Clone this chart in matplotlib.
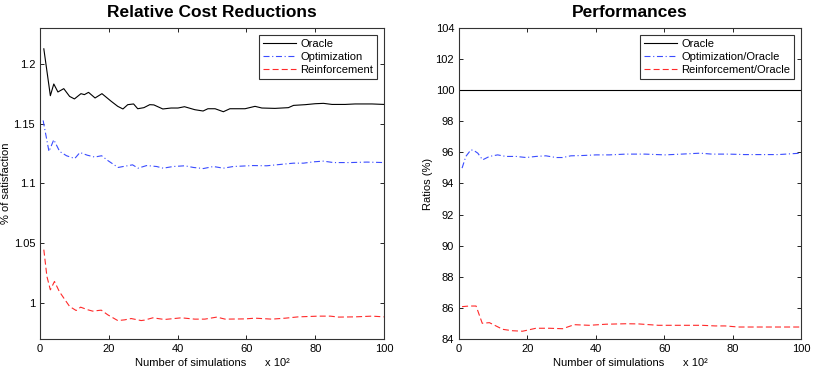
import matplotlib
matplotlib.use("Agg")
from matplotlib import pyplot as plt
from matplotlib.ticker import FormatStrFormatter

plt.rcParams['font.family'] = ['Liberation Sans', 'DejaVu Sans']

# Left panel: relative cost reductions
x_orc = [1.1, 3.0, 4.0, 5.2, 6.9, 8.6, 10.0, 11.9, 12.9, 14.1, 16.0, 18.0, 20.7, 22.6, 24.1,
         25.5, 27.2, 28.4, 30.2, 31.9, 33.1, 35.7, 38.1, 40.1, 42.0, 45.0, 47.4, 48.8, 50.9,
         53.3, 55.2, 59.6, 62.5, 64.5, 68.3, 72.2, 73.7, 77.1, 80.0, 82.4, 84.9, 88.7, 91.6,
         96.5, 100.0]
y_orc = [1.2126, 1.1734, 1.1832, 1.1765, 1.1793, 1.1728, 1.1707, 1.1751, 1.1743, 1.1762,
         1.1715, 1.1751, 1.1687, 1.1645, 1.1623, 1.1659, 1.1665, 1.1625, 1.1634, 1.1659,
         1.1657, 1.1623, 1.1631, 1.1631, 1.1642, 1.1617, 1.1606, 1.1625, 1.1625, 1.1600,
         1.1625, 1.1625, 1.1645, 1.1631, 1.1628, 1.1634, 1.1653, 1.1659, 1.1667, 1.1670,
         1.1661, 1.1661, 1.1665, 1.1665, 1.1661]

x_opt = [0.9, 2.6, 4.0, 5.7, 7.7, 10.1, 11.6, 13.7, 15.9, 17.9, 19.8, 22.7, 24.2, 26.9, 28.5,
         31.0, 33.9, 35.8, 38.7, 42.1, 44.6, 47.5, 50.4, 53.3, 56.2, 62.0, 65.9, 70.8, 73.7,
         76.6, 79.5, 82.4, 85.3, 90.2, 95.0, 100.0]
y_opt = [1.1527, 1.1268, 1.1366, 1.1268, 1.1232, 1.1209, 1.1259, 1.1237, 1.1221, 1.1232,
         1.1190, 1.1134, 1.1142, 1.1156, 1.1128, 1.1150, 1.1142, 1.1128, 1.1142, 1.1148,
         1.1134, 1.1125, 1.1142, 1.1128, 1.1142, 1.1150, 1.1148, 1.1162, 1.1170, 1.1170,
         1.1181, 1.1187, 1.1175, 1.1175, 1.1179, 1.1175]

x_rei = [1.1, 2.0, 3.0, 4.2, 5.6, 7.1, 8.6, 10.5, 11.8, 13.9, 15.3, 17.8, 19.7, 22.6, 24.6,
         26.5, 29.4, 30.4, 32.8, 36.2, 41.1, 45.0, 47.9, 51.4, 53.8, 59.6, 62.5, 67.4, 71.3,
         75.1, 81.0, 84.4, 86.8, 91.6, 96.5, 100.0]
y_rei = [1.0447, 1.0223, 1.0111, 1.0181, 1.0097, 1.0034, 0.9972, 0.9938, 0.9966, 0.9944,
         0.9933, 0.9941, 0.9902, 0.9854, 0.9860, 0.9871, 0.9854, 0.9858, 0.9877, 0.9863,
         0.9877, 0.9866, 0.9866, 0.9883, 0.9866, 0.9868, 0.9874, 0.9866, 0.9874, 0.9885,
         0.9891, 0.9891, 0.9883, 0.9885, 0.9891, 0.9885]

# Right panel: performances (ratios to oracle)
x_ratio_orc = [0, 100]
y_ratio_orc = [100, 100]

x_ratio_opt = [0.9, 2.0, 3.5, 4.5, 5.5, 6.9, 8.9, 11.3, 13.7, 16.7, 19.6, 22.5, 25.4, 28.4,
               30.3, 32.7, 36.2, 40.1, 44.0, 48.8, 54.4, 60.2, 65.1, 70.5, 73.9, 78.8, 83.6,
               88.5, 93.4, 100.0]
y_ratio_opt = [94.99, 95.74, 96.17, 96.10, 95.95, 95.52, 95.74, 95.84, 95.74, 95.74, 95.67,
               95.74, 95.78, 95.67, 95.67, 95.78, 95.80, 95.84, 95.84, 95.89, 95.89, 95.84,
               95.89, 95.95, 95.89, 95.89, 95.86, 95.86, 95.86, 95.95]

x_ratio_rei = [0.9, 3.0, 5.0, 6.8, 8.9, 12.8, 15.7, 18.6, 22.5, 26.4, 30.3, 33.7, 38.1, 43.0,
               48.8, 52.4, 58.3, 64.1, 71.0, 74.9, 77.8, 81.7, 87.6, 93.4, 100.0]
y_ratio_rei = [86.08, 86.12, 86.12, 85.01, 85.05, 84.62, 84.53, 84.50, 84.69, 84.69, 84.66,
               84.92, 84.88, 84.95, 84.98, 84.97, 84.88, 84.88, 84.88, 84.84, 84.84, 84.77,
               84.77, 84.77, 84.77]

FS = 8
BLUE = '#3a4cff'
RED = '#ff2a2a'
DASH = (5.4, 2.8)
DASHDOT = (5.4, 2.4, 1.0, 2.4)


def style_axes(ax):
    ax.set_xlim(0, 100)
    ax.set_xticks([0, 20, 40, 60, 80, 100])
    ax.tick_params(direction='in', top=True, right=True, labelsize=FS, length=3, width=0.6)
    for s in ax.spines.values():
        s.set_linewidth(0.8)
        s.set_color('#333333')
    ax.set_xlabel("Number of simulations      x 10\u00b2", fontsize=FS, labelpad=3)


fig = plt.figure(figsize=(8.17, 3.82), dpi=100)
ax1 = fig.add_axes([0.049, 0.1126, 0.421, 0.8141])
ax2 = fig.add_axes([0.5618, 0.1126, 0.4186, 0.8141])

ax1.plot(x_orc, y_orc, '-', color='k', lw=0.8, label="Oracle")
ax1.plot(x_opt, y_opt, color=BLUE, lw=0.8, dashes=DASHDOT, label="Optimization")
ax1.plot(x_rei, y_rei, color=RED, lw=0.8, dashes=DASH, label="Reinforcement")
style_axes(ax1)
ax1.set_ylim(0.97, 1.23)
ax1.set_yticks([1.0, 1.05, 1.1, 1.15, 1.2])
ax1.yaxis.set_major_formatter(FormatStrFormatter('%g'))
ax1.set_ylabel("% of satisfaction", fontsize=FS)
ax1.yaxis.set_label_coords(-0.085, 0.5)
ax1.set_title("Relative Cost Reductions", fontsize=12.5, fontweight='bold', pad=8)

ax2.plot(x_ratio_orc, y_ratio_orc, '-', color='k', lw=0.8, label="Oracle")
ax2.plot(x_ratio_opt, y_ratio_opt, color=BLUE, lw=0.8, dashes=DASHDOT, label="Optimization/Oracle")
ax2.plot(x_ratio_rei, y_ratio_rei, color=RED, lw=0.8, dashes=DASH, label="Reinforcement/Oracle")
style_axes(ax2)
ax2.set_ylim(84, 104)
ax2.set_yticks(range(84, 105, 2))
ax2.set_ylabel("Ratios (%)", fontsize=FS)
ax2.yaxis.set_label_coords(-0.076, 0.5)
ax2.set_title("Performances", fontsize=12.5, fontweight='bold', pad=8)

for ax in (ax1, ax2):
    leg = ax.legend(loc='upper right', fontsize=FS, fancybox=False, framealpha=1,
                    edgecolor='#333333', borderpad=0.35, labelspacing=0.3,
                    handlelength=3.0, handletextpad=0.4, borderaxespad=0.6)
    leg.get_frame().set_linewidth(0.8)

fig.savefig("out.png", dpi=100)
